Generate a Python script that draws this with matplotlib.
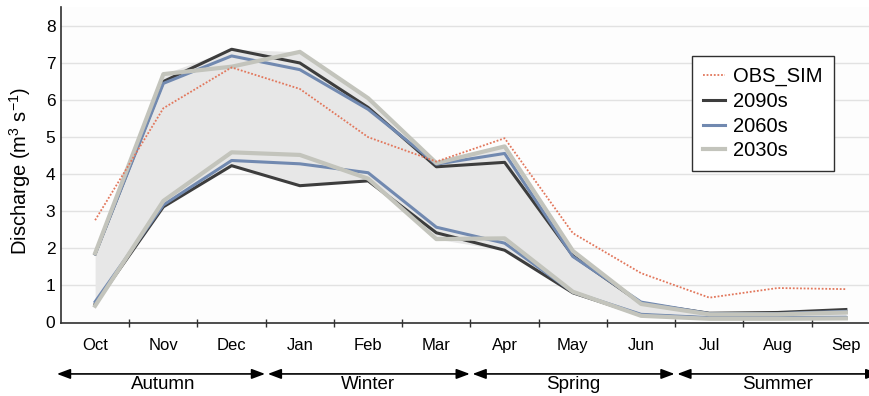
import matplotlib
matplotlib.use('Agg')
import matplotlib.pyplot as plt
import numpy as np

plt.rcParams['font.family'] = ['Liberation Sans', 'DejaVu Sans']
plt.rcParams['mathtext.fontset'] = 'custom'
plt.rcParams['mathtext.rm'] = 'Liberation Sans'
plt.rcParams['mathtext.it'] = 'Liberation Sans:italic'

# ===== data =====
months = ['Oct', 'Nov', 'Dec', 'Jan', 'Feb', 'Mar', 'Apr', 'May', 'Jun', 'Jul', 'Aug', 'Sep']
seasons = ['Autumn', 'Winter', 'Spring', 'Summer']

obs_sim = [2.76, 5.78, 6.88, 6.30, 5.00, 4.34, 4.97, 2.41, 1.33, 0.67, 0.93, 0.90]

q2090_hi = [1.85, 6.50, 7.37, 7.00, 5.80, 4.20, 4.32, 1.80, 0.52, 0.25, 0.27, 0.35]
q2090_lo = [0.50, 3.12, 4.23, 3.69, 3.82, 2.42, 1.95, 0.80, 0.20, 0.12, 0.12, 0.13]
q2060_hi = [1.85, 6.45, 7.19, 6.82, 5.75, 4.27, 4.56, 1.78, 0.55, 0.24, 0.24, 0.30]
q2060_lo = [0.56, 3.17, 4.37, 4.28, 4.04, 2.57, 2.14, 0.82, 0.22, 0.13, 0.13, 0.14]
q2030_hi = [1.87, 6.70, 6.90, 7.30, 6.05, 4.30, 4.75, 1.93, 0.50, 0.22, 0.22, 0.27]
q2030_lo = [0.45, 3.28, 4.59, 4.52, 3.88, 2.25, 2.27, 0.83, 0.18, 0.10, 0.10, 0.11]

# ===== styles =====
C_2090 = '#3d3d3d'
C_2060 = '#7189b0'
C_2030 = '#c3c4bc'
C_OBS = '#e2775c'
C_FILL = '#e7e7e7'

x = np.arange(len(months))

fig = plt.figure(figsize=(8.69, 3.96), dpi=100)
ax = fig.add_axes([61 / 869, 73.5 / 396, 819 / 869, 315.5 / 396])
ax.set_facecolor('#fdfdfd')

# envelope of all scenario runs
stack = np.array([q2090_hi, q2090_lo, q2060_hi, q2060_lo, q2030_hi, q2030_lo])
ax.fill_between(x, stack.min(axis=0), stack.max(axis=0), color=C_FILL, lw=0, zorder=1)

ax.plot(x, q2090_hi, color=C_2090, lw=2.2, zorder=3, label='2090s')
ax.plot(x, q2090_lo, color=C_2090, lw=2.2, zorder=3)
ax.plot(x, q2060_hi, color=C_2060, lw=2.2, zorder=4, label='2060s')
ax.plot(x, q2060_lo, color=C_2060, lw=2.2, zorder=4)
ax.plot(x, q2030_hi, color=C_2030, lw=3.0, zorder=5, label='2030s')
ax.plot(x, q2030_lo, color=C_2030, lw=3.0, zorder=5)
ax.plot(x, obs_sim, color=C_OBS, lw=1.3, ls=(0, (1, 1)), zorder=6, label='OBS_SIM')

ax.set_xlim(-0.5, len(months) - 0.5)
ax.set_ylim(0, 8.51)

ax.set_yticks(range(0, 9))
ax.grid(axis='y', color='#e2e2e2', lw=1)
ax.set_axisbelow(True)
ax.tick_params(axis='y', length=0, pad=4, labelsize=12.5)

ax.set_xticks(x)
ax.set_xticklabels(months)
ax.set_xticks(np.arange(0.5, len(months) - 0.5), minor=True)
ax.tick_params(axis='x', which='major', length=0, pad=11, labelsize=12)
ax.tick_params(axis='x', which='minor', direction='inout', length=6, width=1, color='#303030')

for s in ['top', 'right']:
    ax.spines[s].set_visible(False)
for s in ['left', 'bottom']:
    ax.spines[s].set_color('#303030')
    ax.spines[s].set_linewidth(1.2)

ax.set_ylabel('Discharge (m$^{3}$ s$^{-1}$)', fontsize=14.5)
ax.yaxis.set_label_coords(-0.034, 0.48)

# season arrows under the month labels
trans = ax.get_xaxis_transform()
for i, name in enumerate(seasons):
    x0 = 3 * i - 0.5 + (0.03 if i else -0.06)
    x1 = 3 * i + 2.5 - 0.01
    ax.annotate('', xy=(x1, -0.163), xytext=(x0, -0.163), xycoords=trans,
                textcoords=trans, annotation_clip=False,
                arrowprops=dict(arrowstyle='<|-|>,head_length=0.8,head_width=0.3',
                                color='black', lw=1.2, shrinkA=0, shrinkB=0,
                                mutation_scale=10))
    ax.text(3 * i + 1, -0.195, name, transform=trans, ha='center', va='center',
            fontsize=13.5)

handles, labels = ax.get_legend_handles_labels()
order = [3, 0, 1, 2]
leg = ax.legend([handles[k] for k in order], [labels[k] for k in order],
                loc='upper left', bbox_to_anchor=(692 / 869, 1 - 56 / 396),
                bbox_transform=fig.transFigure, fontsize=14.5, frameon=True,
                fancybox=False, edgecolor='#303030', handlelength=1.1,
                handletextpad=0.4, labelspacing=0.28, borderpad=0.55,
                borderaxespad=0)
leg.get_frame().set_linewidth(1.0)
leg.get_frame().set_facecolor('white')
leg.get_frame().set_alpha(1)

fig.savefig('out.png', dpi=100, facecolor='white')
